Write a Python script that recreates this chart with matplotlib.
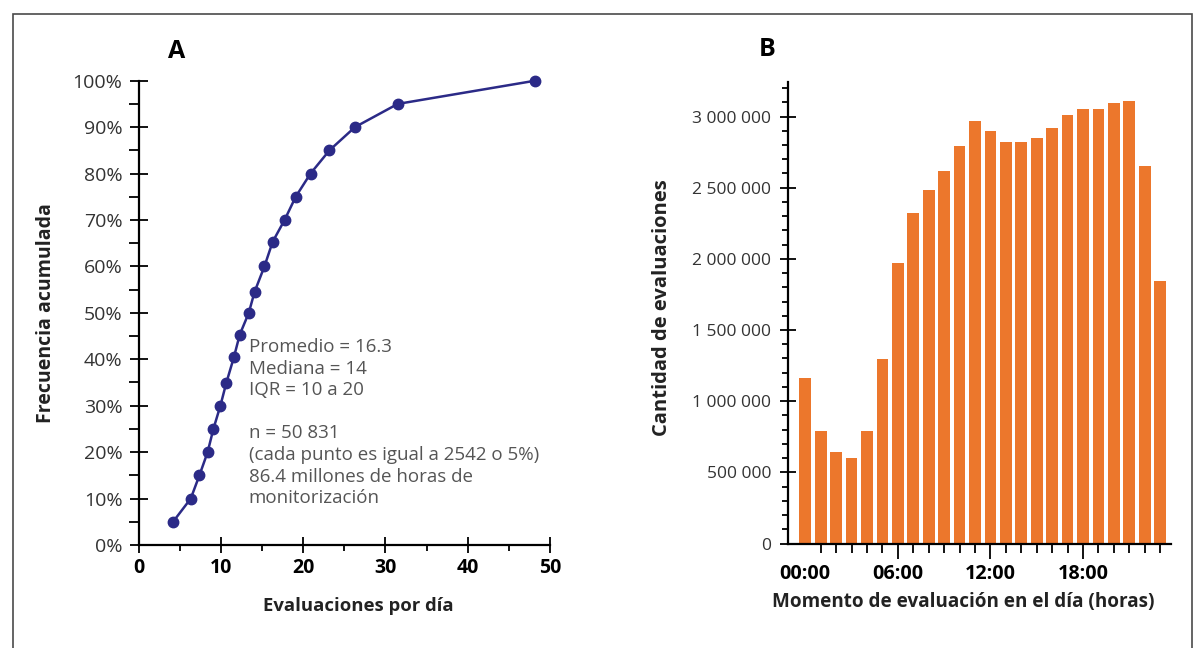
import matplotlib.pyplot as plt
from matplotlib.patches import Rectangle
from matplotlib.ticker import MultipleLocator, FixedLocator

plt.rcParams['font.family'] = ['Open Sans', 'DejaVu Sans']

# Panel A: cumulative frequency of evaluations per day
evals_per_day = [4.2, 6.35, 7.4, 8.4, 9.1, 9.95, 10.65, 11.6, 12.3, 13.4,
                 14.1, 15.3, 16.3, 17.75, 19.1, 20.9, 23.2, 26.3, 31.5, 48.2]
cum_freq = [5, 10, 15, 20, 25, 30, 34.8, 40.5, 45.3, 50,
            54.5, 60, 65.3, 70, 75, 80, 85, 90, 95, 100]
stats_text = ["Promedio = 16.3", "Mediana = 14", "IQR = 10 a 20", "",
              "n = 50 831", "(cada punto es igual a 2542 o 5%)",
              "86.4 millones de horas de", "monitorización"]

# Panel B: evaluations per hour of day
hours = list(range(24))
counts = [1162000, 791000, 643000, 600000, 791000, 1297000, 1972000, 2322000,
          2483000, 2618000, 2795000, 2970000, 2900000, 2822000, 2822000, 2849000,
          2922000, 3013000, 3054000, 3054000, 3097000, 3110000, 2653000, 1846000]
b_major = [0, 6, 12, 18]
b_major_labels = ["00:00", "06:00", "12:00", "18:00"]
b_yticks = [0, 500000, 1000000, 1500000, 2000000, 2500000, 3000000]
b_ylabels = ["0", "500 000", "1 000 000", "1 500 000", "2 000 000", "2 500 000", "3 000 000"]

W, H = 1196, 648
fig = plt.figure(figsize=(W / 100, H / 100), dpi=100)

# outer frame
fig.patches.append(Rectangle((13 / W, -0.1), (1192 - 13) / W, 1.1 - 14 / H,
                             transform=fig.transFigure, fill=False,
                             edgecolor='#4a4a4a', linewidth=1.2))

tick_col = '#333333'
lab_col = '#222222'

# ---------------- Panel A ----------------
axA = fig.add_axes([138.5 / W, 1 - 545 / H, (550 - 138.5) / W, (545 - 80.7) / H])
axA.plot(evals_per_day, cum_freq, color='#2b2a87', linewidth=1.8, marker='o',
         markersize=7.5, clip_on=False, zorder=3)
axA.set_xlim(0, 50)
axA.set_ylim(0, 100)
for s in ['top', 'right']:
    axA.spines[s].set_visible(False)
for s in ['left', 'bottom']:
    axA.spines[s].set_linewidth(1.6)
axA.xaxis.set_major_locator(MultipleLocator(10))
axA.xaxis.set_minor_locator(MultipleLocator(5))
axA.yaxis.set_major_locator(MultipleLocator(10))
axA.yaxis.set_minor_locator(MultipleLocator(5))
axA.set_yticklabels([f"{int(v)}%" for v in axA.get_yticks()])
axA.tick_params(axis='y', which='major', direction='inout', length=13, width=1.3,
                labelsize=14, labelcolor=tick_col, pad=5)
axA.tick_params(axis='y', which='minor', direction='out', length=7, width=1.3)
axA.tick_params(axis='x', which='major', direction='inout', length=11, width=1.3,
                labelsize=14, pad=4)
axA.tick_params(axis='x', which='minor', direction='out', length=4.5, width=1.3)
for lab in axA.get_xticklabels():
    lab.set_fontweight('bold')
axA.set_ylabel("Frecuencia acumulada", fontsize=14, fontweight='bold', color=lab_col)
axA.yaxis.set_label_coords(-0.2, 0.5)
axA.set_xlabel("Evaluaciones por día", fontsize=13.3, fontweight='bold', color=lab_col)
axA.xaxis.set_label_coords(0.533, -0.112)
axA.text(13.4, 44.6, "\n".join(stats_text), fontsize=13.5, color='#555555',
         va='top', ha='left', linespacing=1.26)
fig.text(177 / W, 1 - 52 / H, "A", fontsize=18, fontweight='bold', ha='center', va='center')

# ---------------- Panel B ----------------
axB = fig.add_axes([787.5 / W, 1 - 543.5 / H, (1171 - 787.5) / W, (543.5 - 81.7) / H])
axB.bar(hours, counts, width=0.76, color='#ec772c', zorder=2)
axB.set_xlim(-1.15, 23.7)
axB.set_ylim(0, 3245000)
for s in ['top', 'right']:
    axB.spines[s].set_visible(False)
for s in ['left', 'bottom']:
    axB.spines[s].set_linewidth(1.6)
    axB.spines[s].set_zorder(3)
axB.set_xticks(b_major)
axB.set_xticklabels(b_major_labels)
axB.xaxis.set_minor_locator(FixedLocator([h for h in hours if h % 6 != 0]))
axB.set_yticks(b_yticks)
axB.set_yticklabels(b_ylabels)
axB.yaxis.set_minor_locator(MultipleLocator(100000))
axB.tick_params(axis='y', which='major', direction='inout', length=11.5, width=1.3,
                labelsize=12.5, labelcolor=tick_col, pad=6)
axB.tick_params(axis='y', which='minor', direction='out', length=4, width=1.3)
axB.tick_params(axis='x', which='major', direction='out', length=11, width=1.3,
                labelsize=14.2, pad=4)
axB.tick_params(axis='x', which='minor', direction='out', length=6.5, width=1.3)
axB.xaxis.get_major_ticks()[0].tick1line.set_visible(False)
for lab in axB.get_xticklabels():
    lab.set_fontweight('bold')
axB.set_ylabel("Cantidad de evaluaciones", fontsize=14.5, fontweight='bold', color=lab_col)
axB.yaxis.set_label_coords(-0.3, 0.51)
axB.set_xlabel("Momento de evaluación en el día (horas)", fontsize=13.6,
               fontweight='bold', color=lab_col)
axB.xaxis.set_label_coords(0.4577, -0.105)
fig.text(767 / W, 1 - 50 / H, "B", fontsize=18, fontweight='bold', ha='center', va='center')

fig.savefig("out.png", dpi=100)
